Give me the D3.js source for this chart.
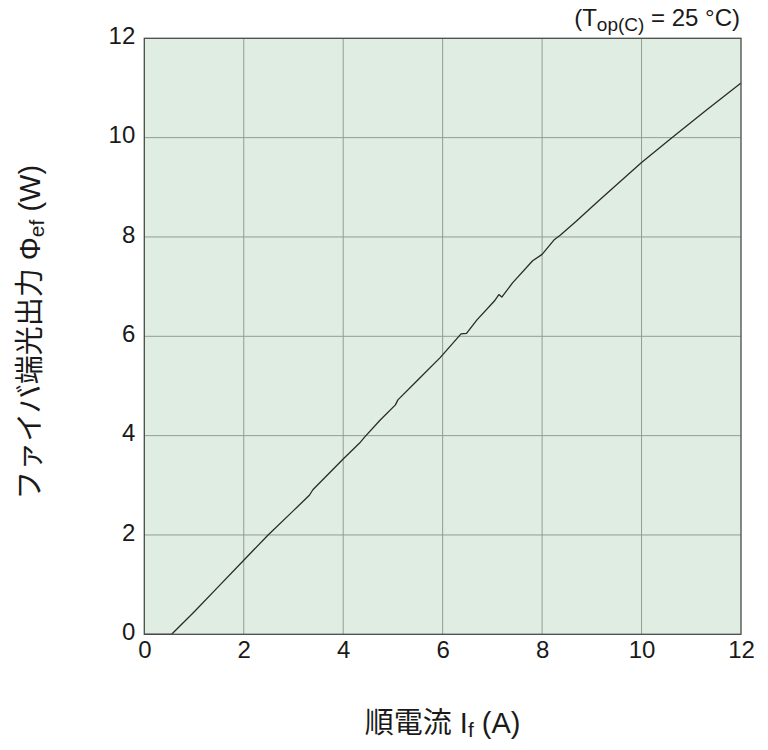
<!DOCTYPE html>
<html>
<head>
<meta charset="utf-8">
<script src="https://cdn.jsdelivr.net/npm/d3@7"></script>
<style>
  body { margin: 0; background: #fff; }
  svg { display: block; }
  text { font-family: "Liberation Sans", Arial, "Noto Sans CJK JP", sans-serif; fill: #1a1a1a; }
</style>
</head>
<body>
<div id="grafico"></div>
<script>
// Dados (corrente direta em A, potência na fibra em W)
const correnteA = [0, 0.55, 1.0, 1.5, 2.0, 2.49, 3.0, 3.32, 3.39, 4.0, 4.33, 4.43, 4.74, 5.05, 5.1, 5.5, 5.95, 6.37, 6.48, 6.69, 7.04, 7.13, 7.19, 7.41, 7.81, 8.0, 8.25, 8.37, 8.68, 9.16, 10.0, 10.61, 11.3, 12.0];
const potenciaW = [0, 0, 0.45, 0.97, 1.49, 2.0, 2.49, 2.80, 2.91, 3.53, 3.85, 3.97, 4.31, 4.62, 4.72, 5.12, 5.57, 6.05, 6.06, 6.33, 6.71, 6.84, 6.79, 7.08, 7.52, 7.65, 7.95, 8.04, 8.31, 8.75, 9.50, 10.0, 10.55, 11.1];
const ticksX = [0, 2, 4, 6, 8, 10, 12];
const ticksY = [0, 2, 4, 6, 8, 10, 12];

// Margens e dimensões
const largura = 768, altura = 750;
const margin = { top: 38.3, right: 27, bottom: 115.7, left: 144.3 };
const width = largura - margin.left - margin.right;
const height = altura - margin.top - margin.bottom;

const svg = d3.select("#grafico").append("svg")
    .attr("width", largura)
    .attr("height", altura);

const g = svg.append("g")
    .attr("transform", `translate(${margin.left},${margin.top})`);

const x = d3.scaleLinear().domain([0, 12]).range([0, width]);
const y = d3.scaleLinear().domain([0, 12]).range([height, 0]);

// Fundo verde claro
g.append("rect")
    .attr("width", width)
    .attr("height", height)
    .attr("fill", "#e0ede2");

// Grade
g.append("g").selectAll("line").data(ticksX.slice(1, -1)).join("line")
    .attr("x1", d => x(d)).attr("x2", d => x(d))
    .attr("y1", 0).attr("y2", height)
    .attr("stroke", "#909e92").attr("stroke-width", 1);
g.append("g").selectAll("line").data(ticksY.slice(1, -1)).join("line")
    .attr("y1", d => y(d)).attr("y2", d => y(d))
    .attr("x1", 0).attr("x2", width)
    .attr("stroke", "#909e92").attr("stroke-width", 1);

// Eixos (só rótulos)
const eixoX = g.append("g")
    .attr("transform", `translate(0,${height})`)
    .call(d3.axisBottom(x).tickValues(ticksX).tickSize(0).tickPadding(7));
const eixoY = g.append("g")
    .call(d3.axisLeft(y).tickValues(ticksY).tickSize(0).tickPadding(9));
[eixoX, eixoY].forEach(e => {
    e.select(".domain").remove();
    e.selectAll("text")
        .style("font-family", '"Liberation Sans", Arial, sans-serif')
        .style("font-size", "24px")
        .attr("fill", "#1a1a1a");
});
eixoY.selectAll("text").attr("dy", "0.22em");

// Curva
g.append("path")
    .datum(correnteA.map((c, i) => [c, potenciaW[i]]))
    .attr("fill", "none")
    .attr("stroke", "#2a2a2a")
    .attr("stroke-width", 1.3)
    .attr("stroke-linejoin", "round")
    .attr("d", d3.line().x(d => x(d[0])).y(d => y(d[1])));

// Moldura
g.append("rect")
    .attr("width", width)
    .attr("height", height)
    .attr("fill", "none")
    .attr("stroke", "#4a4a4a")
    .attr("stroke-width", 1.3);

// Condição de medição
const cond = svg.append("text")
    .attr("x", 740)
    .attr("y", 26)
    .attr("text-anchor", "end")
    .style("font-size", "24px");
cond.append("tspan").text("(T");
cond.append("tspan").attr("dy", 5).style("font-size", "19px").text("op(C)");
cond.append("tspan").attr("dy", -5).text(" = 25 °C)");

// Título do eixo X
const tituloX = svg.append("text")
    .attr("x", margin.left + width / 2)
    .attr("y", 733)
    .attr("text-anchor", "middle")
    .style("font-size", "29px");
tituloX.append("tspan").text("順電流 I");
tituloX.append("tspan").attr("dy", 4).style("font-size", "21px").text("f");
tituloX.append("tspan").attr("dy", -4).text(" (A)");

// Título do eixo Y
const tituloY = svg.append("text")
    .attr("transform", `translate(40,${margin.top + height / 2 - 4}) rotate(-90)`)
    .attr("text-anchor", "middle")
    .style("font-size", "29px");
tituloY.append("tspan").text("ファイバ端光出力 Φ");
tituloY.append("tspan").attr("dy", 4).style("font-size", "21px").text("ef");
tituloY.append("tspan").attr("dy", -4).text(" (W)");
</script>
</body>
</html>
